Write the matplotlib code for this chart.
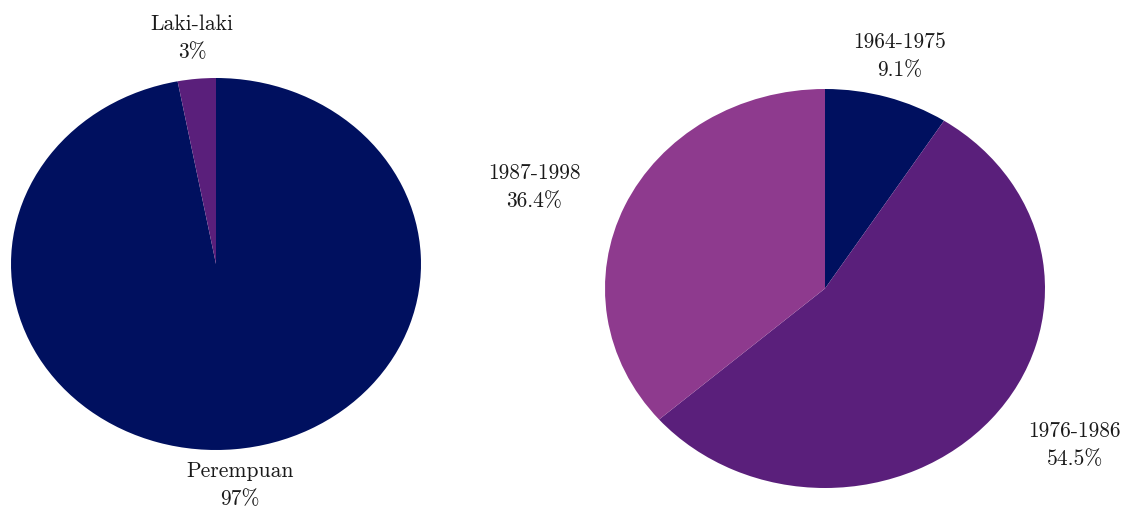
import numpy as np
import matplotlib.pyplot as plt

plt.rcParams['font.family'] = ['cmr10', 'DejaVu Serif']

gender_labels = ['Perempuan', 'Laki-laki']
gender_values = [97, 3]
gender_text = ['97%', '3%']

year_labels = ['1964-1975', '1976-1986', '1987-1998']
year_values = [9.1, 54.5, 36.4]
year_text = ['9.1%', '54.5%', '36.4%']

navy = '#00105f'
purple = '#5a1f7b'
pink = '#8e3a8e'

W, H = 1126, 511
fig = plt.figure(figsize=(W / 100, H / 100), dpi=100)


def make_ax(left, right, top, bottom):
    return fig.add_axes([left / W, (H - bottom) / H, (right - left) / W, (bottom - top) / H])


def draw(ax, values, labels, texts, colors, offsets):
    wedges, _ = ax.pie(values, colors=colors, startangle=90, counterclock=False,
                       radius=1, center=(0, 0), frame=True)
    ax.set_xlim(-1, 1)
    ax.set_ylim(-1, 1)
    ax.set_aspect('auto')
    ax.axis('off')
    for w, lab, t, (dx, dy) in zip(wedges, labels, texts, offsets):
        ax.text(dx, dy, lab + '\n' + t, ha='center', va='center', fontsize=15.5,
                linespacing=1.55, color='#1a1a1a', clip_on=False)


# label positions in pie-radius units
gender_offsets = [(0.117, -1.19), (-0.117, 1.215)]
year_offsets = [(0.341, 1.165), (1.136, -0.784), (-1.323, 0.509)]

ax1 = make_ax(11, 421, 78, 450)
draw(ax1, gender_values, gender_labels, gender_text, [navy, purple], gender_offsets)

ax2 = make_ax(605, 1045, 89, 488)
draw(ax2, year_values, year_labels, year_text, [navy, purple, pink], year_offsets)

fig.savefig('out.png', dpi=100)
